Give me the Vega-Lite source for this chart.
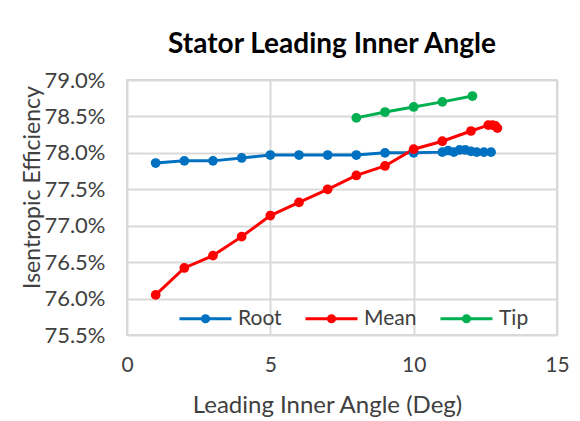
{
  "$schema": "https://vega.github.io/schema/vega-lite/v6.json",
  "width": 430,
  "height": 255,
  "autosize": "none",
  "padding": {"left": 127, "top": 80, "right": 23, "bottom": 86},
  "background": "white",
  "title": {
    "text": "Stator Leading Inner Angle",
    "font": "Lato",
    "fontSize": 28,
    "fontWeight": "bold",
    "color": "#000000",
    "anchor": "middle",
    "frame": "group",
    "dx": -10,
    "dy": 39,
    "baseline": "alphabetic",
    "offset": 27
  },
  "data": {
    "values": [
      {"series": "Root", "angle": 1, "eff": 0.7786},
      {"series": "Root", "angle": 2, "eff": 0.7789},
      {"series": "Root", "angle": 3, "eff": 0.7789},
      {"series": "Root", "angle": 4, "eff": 0.7793},
      {"series": "Root", "angle": 5, "eff": 0.7797},
      {"series": "Root", "angle": 6, "eff": 0.7797},
      {"series": "Root", "angle": 7, "eff": 0.7797},
      {"series": "Root", "angle": 8, "eff": 0.7797},
      {"series": "Root", "angle": 9, "eff": 0.7800},
      {"series": "Root", "angle": 10, "eff": 0.7800},
      {"series": "Root", "angle": 11.0, "eff": 0.7801},
      {"series": "Root", "angle": 11.2, "eff": 0.7803},
      {"series": "Root", "angle": 11.4, "eff": 0.7801},
      {"series": "Root", "angle": 11.6, "eff": 0.7804},
      {"series": "Root", "angle": 11.8, "eff": 0.7804},
      {"series": "Root", "angle": 12.0, "eff": 0.7802},
      {"series": "Root", "angle": 12.2, "eff": 0.7801},
      {"series": "Root", "angle": 12.45, "eff": 0.7801},
      {"series": "Root", "angle": 12.7, "eff": 0.7801},
      {"series": "Mean", "angle": 1, "eff": 0.7605},
      {"series": "Mean", "angle": 2, "eff": 0.7642},
      {"series": "Mean", "angle": 3, "eff": 0.7659},
      {"series": "Mean", "angle": 4, "eff": 0.7685},
      {"series": "Mean", "angle": 5, "eff": 0.7714},
      {"series": "Mean", "angle": 6, "eff": 0.7732},
      {"series": "Mean", "angle": 7, "eff": 0.7750},
      {"series": "Mean", "angle": 8, "eff": 0.7769},
      {"series": "Mean", "angle": 9, "eff": 0.7782},
      {"series": "Mean", "angle": 10, "eff": 0.7805},
      {"series": "Mean", "angle": 11, "eff": 0.7816},
      {"series": "Mean", "angle": 12, "eff": 0.7830},
      {"series": "Mean", "angle": 12.6, "eff": 0.7838},
      {"series": "Mean", "angle": 12.75, "eff": 0.7838},
      {"series": "Mean", "angle": 12.85, "eff": 0.7837},
      {"series": "Mean", "angle": 12.92, "eff": 0.7834},
      {"series": "Tip", "angle": 8, "eff": 0.7848},
      {"series": "Tip", "angle": 9, "eff": 0.7856},
      {"series": "Tip", "angle": 10, "eff": 0.7863},
      {"series": "Tip", "angle": 11, "eff": 0.7870},
      {"series": "Tip", "angle": 12.05, "eff": 0.7878}
    ]
  },
  "mark": {
    "type": "line",
    "strokeWidth": 3,
    "point": {"filled": true, "size": 95}
  },
  "encoding": {
    "x": {
      "field": "angle",
      "type": "quantitative",
      "scale": {"domain": [0, 15], "nice": false},
      "axis": {
        "title": "Leading Inner Angle (Deg)",
        "values": [0, 5, 10, 15],
        "ticks": false,
        "domain": false,
        "grid": true,
        "gridColor": "#d9d9d9",
        "gridWidth": 2,
        "labelFlush": false,
        "labelFont": "Lato",
        "labelFontSize": 21,
        "labelColor": "#404040",
        "labelPadding": 19,
        "titleFont": "Lato",
        "titleFontSize": 24,
        "titleFontWeight": "normal",
        "titleColor": "#404040",
        "titleX": 200,
        "titleY": 77,
        "titleBaseline": "alphabetic"
      }
    },
    "y": {
      "field": "eff",
      "type": "quantitative",
      "scale": {"domain": [0.755, 0.79], "nice": false, "zero": false},
      "axis": {
        "title": "Isentropic Efficiency",
        "format": ".1%",
        "values": [0.755, 0.76, 0.765, 0.77, 0.775, 0.78, 0.785, 0.79],
        "ticks": false,
        "domain": false,
        "grid": true,
        "gridColor": "#d9d9d9",
        "gridWidth": 2,
        "labelFlush": false,
        "labelFont": "Lato",
        "labelFontSize": 22,
        "labelColor": "#404040",
        "labelPadding": 22,
        "titleFont": "Lato",
        "titleFontSize": 23,
        "titleFontWeight": "normal",
        "titleColor": "#404040",
        "titleAngle": -90,
        "titleX": -88,
        "titleY": 107,
        "titleBaseline": "alphabetic"
      }
    },
    "color": {
      "field": "series",
      "type": "nominal",
      "scale": {"domain": ["Root", "Mean", "Tip"], "range": ["#0070C0", "#FF0000", "#00B050"]},
      "legend": {
        "title": null,
        "orient": "none",
        "direction": "horizontal",
        "legendX": 51,
        "legendY": 211,
        "padding": 0,
        "symbolType": "M-1,0H1M0.12,0A0.12,0.12 0 1,1 -0.12,0A0.12,0.12 0 1,1 0.12,0M0.06,0A0.06,0.06 0 1,1 -0.06,0A0.06,0.06 0 1,1 0.06,0",
        "symbolSize": 2704,
        "symbolStrokeWidth": 3,
        "labelFont": "Lato",
        "labelFontSize": 21,
        "labelColor": "#404040",
        "labelOffset": 5,
        "columnPadding": 17
      }
    }
  },
  "config": {
    "view": {"stroke": "#d9d9d9", "strokeWidth": 2}
  }
}
